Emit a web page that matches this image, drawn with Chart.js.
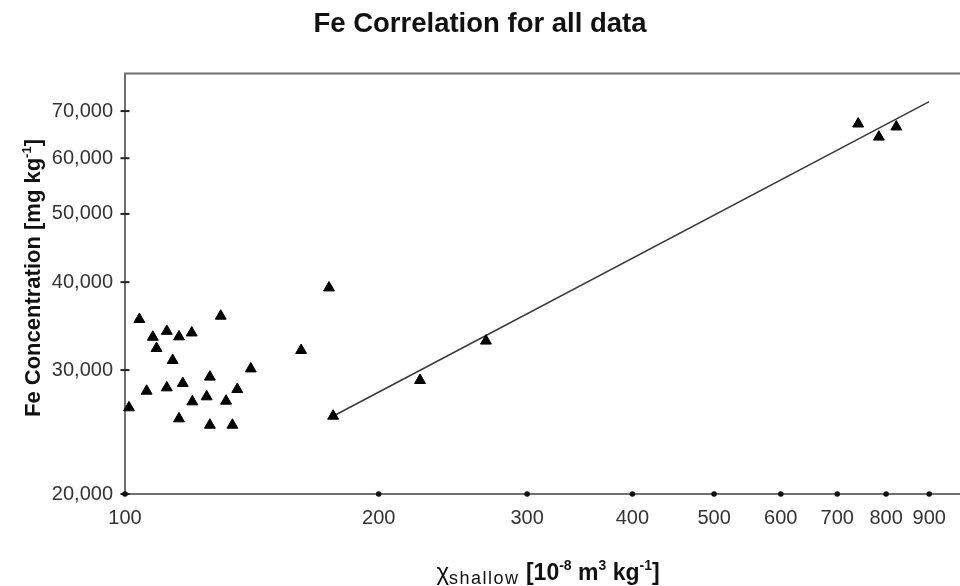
<!DOCTYPE html>
<html>
<head>
<meta charset="utf-8">
<script src="https://cdn.jsdelivr.net/npm/chart.js@4.4.1/dist/chart.umd.min.js"></script>
<style>
  html, body { margin: 0; padding: 0; background: #fff; }
  #wrap { width: 960px; height: 586px; position: relative; }
</style>
</head>
<body>
<div id="wrap"><canvas id="c" width="960" height="586"></canvas></div>
<script>
// ---- data ----
const chiShallow = [101.1, 104.0, 106.1, 107.9, 109.0, 112.1, 112.1, 113.9, 115.9, 117.1,
                    115.9, 120.0, 120.2, 125.0, 126.1, 126.1, 129.9, 131.8, 134.1, 135.9,
                    141.0, 161.8, 174.6, 176.6, 223.9, 268.1, 741.3, 784.4, 822.6];
const feConc = [26530, 35420, 28010, 33420, 32210, 34070, 28320, 30970, 33460, 28730,
                25590, 33890, 27050, 27500, 29330, 25060, 35800, 27110, 25060, 28170,
                30130, 32000, 39270, 25810, 29010, 33000, 67140, 64320, 66490];
const fitX = [176.5, 900];
const fitY = [25800, 72200];
const xTicks = [100, 200, 300, 400, 500, 600, 700, 800, 900];
const yTicks = [20000, 30000, 40000, 50000, 60000, 70000];
const titleText = 'Fe Correlation for all data';

const FONT = '"Liberation Sans", Arial, Helvetica, sans-serif';

function segWidth(ctx, s) {
  ctx.font = s.font;
  ctx.letterSpacing = s.ls || '0px';
  return ctx.measureText(s.t).width;
}
function drawRich(ctx, segs, cx, baseY, rotate) {
  ctx.save();
  ctx.translate(cx, baseY);
  if (rotate) ctx.rotate(-Math.PI / 2);
  ctx.textBaseline = 'alphabetic';
  ctx.textAlign = 'left';
  ctx.fillStyle = '#111';
  let total = 0;
  for (const s of segs) total += segWidth(ctx, s);
  let x = -total / 2;
  for (const s of segs) {
    const w = segWidth(ctx, s);
    ctx.fillText(s.t, x, s.dy || 0);
    x += w;
  }
  ctx.letterSpacing = '0px';
  ctx.restore();
}

const decorPlugin = {
  id: 'decor',
  afterDraw(chart) {
    const ctx = chart.ctx;
    const a = chart.chartArea;
    const xs = chart.scales.x, ys = chart.scales.y;
    ctx.save();
    // top frame line
    ctx.strokeStyle = '#707070';
    ctx.lineWidth = 2;
    ctx.beginPath();
    ctx.moveTo(a.left - 1, a.top);
    ctx.lineTo(a.right, a.top);
    ctx.stroke();
    // y tick marks crossing the axis
    ctx.strokeStyle = '#222';
    ctx.lineWidth = 2;
    for (const v of yTicks) {
      const py = ys.getPixelForValue(v);
      ctx.beginPath();
      ctx.moveTo(a.left - 4.5, py);
      ctx.lineTo(a.left + 4.5, py);
      ctx.stroke();
    }
    // x tick dots
    ctx.fillStyle = '#111';
    for (const v of xTicks) {
      const px = xs.getPixelForValue(v);
      ctx.beginPath();
      ctx.arc(px, a.bottom, 2.8, 0, Math.PI * 2);
      ctx.fill();
    }
    ctx.restore();

    // axis titles with sub/superscripts
    const B = 'bold 23px ' + FONT, Bs = 'bold 14px ' + FONT;
    drawRich(ctx, [
      { t: 'χ', font: '24px ' + FONT },
      { t: 'shallow', font: '18px ' + FONT, dy: 4, ls: '1.5px' },
      { t: ' [10', font: B },
      { t: '-8', font: Bs, dy: -10 },
      { t: ' m', font: B },
      { t: '3', font: Bs, dy: -10 },
      { t: ' kg', font: B },
      { t: '-1', font: Bs, dy: -10 },
      { t: ']', font: B }
    ], 548, 580, false);

    const Y = 'bold 22px ' + FONT, Ys = 'bold 13px ' + FONT;
    drawRich(ctx, [
      { t: 'Fe Concentration [mg kg', font: Y },
      { t: '-1', font: Ys, dy: -9 },
      { t: ']', font: Y }
    ], 40, 278, true);
  }
};

const ctx = document.getElementById('c').getContext('2d');
new Chart(ctx, {
  type: 'scatter',
  data: {
    datasets: [
      {
        label: 'data',
        data: chiShallow.map((x, i) => ({ x: x, y: feConc[i] })),
        pointStyle: 'triangle',
        pointRadius: 6.3,
        pointHoverRadius: 6.3,
        backgroundColor: '#000',
        borderColor: '#000',
        borderWidth: 1,
        clip: false
      },
      {
        label: 'fit',
        data: fitX.map((x, i) => ({ x: x, y: fitY[i] })),
        showLine: true,
        pointRadius: 0,
        borderColor: '#3a3a3a',
        borderWidth: 1.6,
        fill: false,
        clip: false
      }
    ]
  },
  options: {
    responsive: false,
    animation: false,
    events: [],
    layout: { padding: 0, autoPadding: false },
    plugins: {
      legend: { display: false },
      tooltip: { enabled: false },
      title: {
        display: true,
        text: titleText,
        color: '#111',
        font: { family: FONT, size: 27.5, weight: 'bold', lineHeight: 1.2 },
        padding: { top: 8, bottom: 32.5 }
      }
    },
    scales: {
      x: {
        type: 'logarithmic',
        min: 100,
        max: 979,
        afterBuildTicks(s) { s.ticks = xTicks.map(v => ({ value: v })); },
        afterFit(s) { s.height = 92; s.paddingRight = 0; s.paddingLeft = 0; },
        grid: { display: false, drawTicks: false },
        border: { display: true, color: '#707070', width: 2 },
        ticks: {
          autoSkip: false,
          maxRotation: 0,
          padding: 12,
          color: '#333',
          font: { family: FONT, size: 20 },
          callback: v => String(v)
        }
      },
      y: {
        type: 'logarithmic',
        min: 20000,
        max: 79160,
        afterBuildTicks(s) { s.ticks = yTicks.map(v => ({ value: v })); },
        afterFit(s) { s.width = 125; s.paddingTop = 0; s.paddingBottom = 0; },
        grid: { display: false, drawTicks: false },
        border: { display: true, color: '#707070', width: 2 },
        ticks: {
          autoSkip: false,
          padding: 12,
          color: '#333',
          font: { family: FONT, size: 20 },
          callback: v => Number(v).toLocaleString('en-US')
        }
      }
    }
  },
  plugins: [decorPlugin]
});
</script>
</body>
</html>
